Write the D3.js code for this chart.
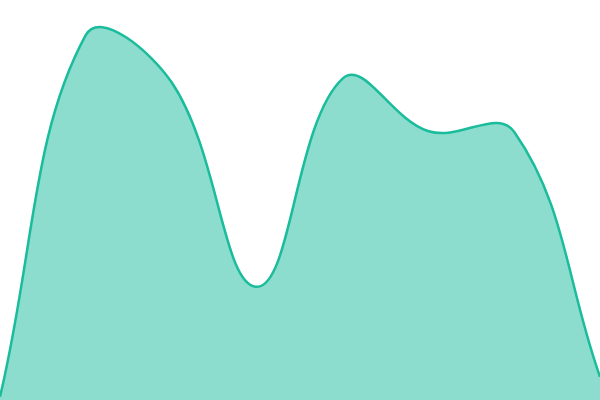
<!DOCTYPE html>
<html>
<head>
<meta charset="utf-8">
<script src="https://cdn.jsdelivr.net/npm/d3@7"></script>
<style>
  html, body { margin: 0; padding: 0; background: #fff; }
  svg { display: block; }
</style>
</head>
<body>
<svg id="chart" width="600" height="400"></svg>
<script>
const categories = ["A", "B", "C", "D", "E", "F", "G", "H"];
const values = [0.8, 91.2, 79.5, 28.3, 80.4, 67.2, 67.0, 5.8];

const width = 600, height = 400;
const tension = 0.4;

// Distance-weighted cubic spline (tension-based), as a D3 curve factory
function SplineCurve(context, t) { this._context = context; this._t = t; }
SplineCurve.prototype = {
  areaStart() { this._line = 0; },
  areaEnd() { this._line = NaN; },
  lineStart() { this._x = []; this._y = []; },
  point(x, y) { this._x.push(+x); this._y.push(+y); },
  lineEnd() {
    const X = this._x, Y = this._y, n = X.length, c = this._context, t = this._t;
    if (n) {
      this._line ? c.lineTo(X[0], Y[0]) : c.moveTo(X[0], Y[0]);
      const inX = [], inY = [], outX = [], outY = [];
      const clampX = v => Math.max(0, Math.min(width, v));
      const clampY = v => Math.max(0, Math.min(height, v));
      for (let i = 0; i < n; i++) {
        const px = X[Math.max(i - 1, 0)], py = Y[Math.max(i - 1, 0)];
        const nx = X[Math.min(i + 1, n - 1)], ny = Y[Math.min(i + 1, n - 1)];
        const d01 = Math.hypot(X[i] - px, Y[i] - py);
        const d12 = Math.hypot(nx - X[i], ny - Y[i]);
        let s01 = d01 / (d01 + d12), s12 = d12 / (d01 + d12);
        if (!isFinite(s01)) s01 = 0;
        if (!isFinite(s12)) s12 = 0;
        const fa = t * s01, fb = t * s12;
        inX[i] = clampX(X[i] - fa * (nx - px));
        inY[i] = clampY(Y[i] - fa * (ny - py));
        outX[i] = clampX(X[i] + fb * (nx - px));
        outY[i] = clampY(Y[i] + fb * (ny - py));
      }
      for (let i = 0; i < n - 1; i++) {
        c.bezierCurveTo(outX[i], outY[i], inX[i + 1], inY[i + 1], X[i + 1], Y[i + 1]);
      }
    }
    if (this._line || (this._line !== 0 && n === 1)) c.closePath();
    this._line = 1 - this._line;
    this._x = this._y = null;
  }
};
const curveSpline = context => new SplineCurve(context, tension);

const svg = d3.select("#chart");

const x = d3.scalePoint().domain(categories).range([0, width]);
const y = d3.scaleLinear().domain([0, 100]).range([height, 0]);

const data = categories.map((c, i) => ({ c, v: values[i] }));

const area = d3.area()
  .x(d => x(d.c))
  .y0(height)
  .y1(d => y(d.v))
  .curve(curveSpline);

const line = d3.line()
  .x(d => x(d.c))
  .y(d => y(d.v))
  .curve(curveSpline);

svg.append("path")
  .datum(data)
  .attr("d", area)
  .attr("fill", "#1abc9c")
  .attr("fill-opacity", 0.5);

svg.append("path")
  .datum(data)
  .attr("d", line)
  .attr("fill", "none")
  .attr("stroke", "#1abc9c")
  .attr("stroke-width", 2.5);
</script>
</body>
</html>
